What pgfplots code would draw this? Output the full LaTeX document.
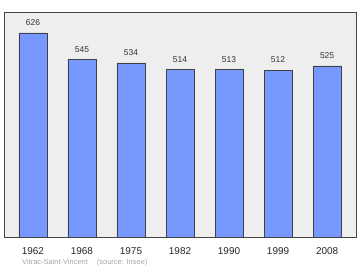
\documentclass[border=0pt]{standalone}
\usepackage{fontspec}
\setmainfont{Liberation Sans}
\usepackage{pgfplots}
\pgfplotsset{compat=1.18}
\definecolor{barfill}{HTML}{7799FF}
\definecolor{bgcol}{HTML}{EEEEEE}
\definecolor{frame}{HTML}{444444}
\begin{document}
\begin{tikzpicture}[x=1bp,y=1bp]
\useasboundingbox (-4,-33) rectangle (356,237);
\begin{axis}[
  at={(0,0)}, anchor=south west,
  scale only axis, width=352bp, height=225bp,
  xmin=-0.59, xmax=6.59, ymin=0, ymax=690,
  axis background/.style={fill=bgcol},
  axis line style={draw=frame, line width=1pt},
  xtick=data,
  xticklabels={1962,1968,1975,1982,1990,1999,2008},
  ytick=\empty,
  major tick length=0pt,
  xticklabel style={font=\fontsize{10}{12}\selectfont, text=black!85, yshift=-7bp},
  /pgf/number format/assume math mode=true,
  clip=false,
]
\addplot[ybar, bar width=28bp, fill=barfill, draw=black!75, line width=0.5pt,
  nodes near coords,
  every node near coord/.append style={font=\fontsize{8.5}{10}\selectfont, text=black!80, anchor=center, yshift=10bp},
] coordinates {(0,626) (1,545) (2,534) (3,514) (4,513) (5,512) (6,525)};
\end{axis}
\node[anchor=west, text=black!35, font=\fontsize{7.5}{9}\selectfont, inner sep=0] at (18,-26) {Vitrac-Saint-Vincent\hspace{1.2em}(source: Insee)};
\end{tikzpicture}
\end{document}
